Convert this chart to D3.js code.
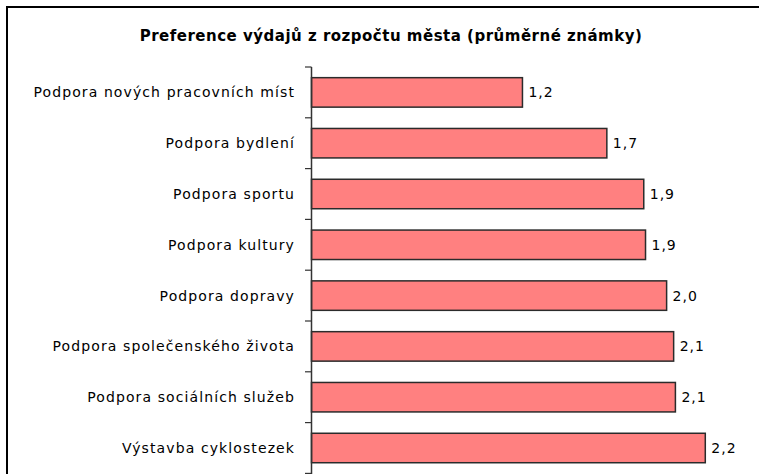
<!DOCTYPE html>
<html>
<head>
<meta charset="utf-8">
<script src="https://cdn.jsdelivr.net/npm/d3@7"></script>
<style>
  body { margin: 0; background: #fff; }
  svg { display: block; }
</style>
</head>
<body>
<svg id="chart" width="759" height="474"></svg>
<script>
(function(){
    var categories = [
        'Podpora nových pracovních míst',
        'Podpora bydlení',
        'Podpora sportu',
        'Podpora kultury',
        'Podpora dopravy',
        'Podpora společenského života',
        'Podpora sociálních služeb',
        'Výstavba cyklostezek'
    ];
    var values = [1.20, 1.68, 1.89, 1.90, 2.02, 2.06, 2.07, 2.24];
    var xDomain = [0, 2.5];
    var title = 'Preference výdajů z rozpočtu města (průměrné známky)';

    var svg = d3.select('#chart');
    var font = '"DejaVu Sans", Verdana, sans-serif';

    // outer chart frame (runs off the right / bottom edge)
    svg.append('rect')
        .attr('x', 7).attr('y', 7)
        .attr('width', 800).attr('height', 600)
        .attr('fill', '#fff')
        .attr('stroke', '#000')
        .attr('stroke-width', 2);

    svg.append('text')
        .attr('x', 391).attr('y', 41)
        .attr('text-anchor', 'middle')
        .style('font-family', font)
        .style('font-weight', 'bold')
        .style('font-size', '15px')
        .style('letter-spacing', '0.5px')
        .text(title);

    var x = d3.scaleLinear().domain(xDomain).range([311.5, 751]);
    var y = d3.scaleBand().domain(categories).range([67, 473.4]).paddingInner(0.42).paddingOuter(0.21);

    var fmt = function(v){ return d3.format('.1f')(v).replace('.', ','); };

    var rows = categories.map(function(c, i){ return {cat: c, val: values[i]}; });

    svg.append('g').selectAll('rect')
        .data(rows).join('rect')
        .attr('x', x(0))
        .attr('y', function(d){ return y(d.cat); })
        .attr('width', function(d){ return x(d.val) - x(0); })
        .attr('height', y.bandwidth())
        .attr('fill', '#FF8080')
        .attr('stroke', '#2b2b2b')
        .attr('stroke-width', 1.5);

    svg.append('g').selectAll('text')
        .data(rows).join('text')
        .attr('x', function(d){ return x(d.val) + 6; })
        .attr('y', function(d){ return y(d.cat) + y.bandwidth() / 2; })
        .attr('dy', '0.36em')
        .style('font-family', font)
        .style('font-size', '14px')
        .style('letter-spacing', '1px')
        .text(function(d){ return fmt(d.val); });

    // category axis: ticks at band boundaries like the original
    var yAxisG = svg.append('g');
    yAxisG.append('line')
        .attr('x1', 311.5).attr('x2', 311.5)
        .attr('y1', 67).attr('y2', 474)
        .attr('stroke', '#333').attr('stroke-width', 1.5);
    var bounds = d3.range(categories.length + 1).map(function(i){ return 67 + i * (473.4 - 67) / categories.length; });
    yAxisG.selectAll('line.tick')
        .data(bounds).join('line')
        .attr('class', 'tick')
        .attr('x1', 305).attr('x2', 311.5)
        .attr('y1', function(d){ return d; })
        .attr('y2', function(d){ return d; })
        .attr('stroke', '#333').attr('stroke-width', 1.2);

    yAxisG.selectAll('text')
        .data(categories).join('text')
        .attr('x', 295)
        .attr('y', function(d){ return y(d) + y.bandwidth() / 2; })
        .attr('dy', '0.36em')
        .attr('text-anchor', 'end')
        .style('font-family', font)
        .style('font-size', '14px')
        .style('letter-spacing', '1.1px')
        .text(function(d){ return d; });
})();
</script>
</body>
</html>
